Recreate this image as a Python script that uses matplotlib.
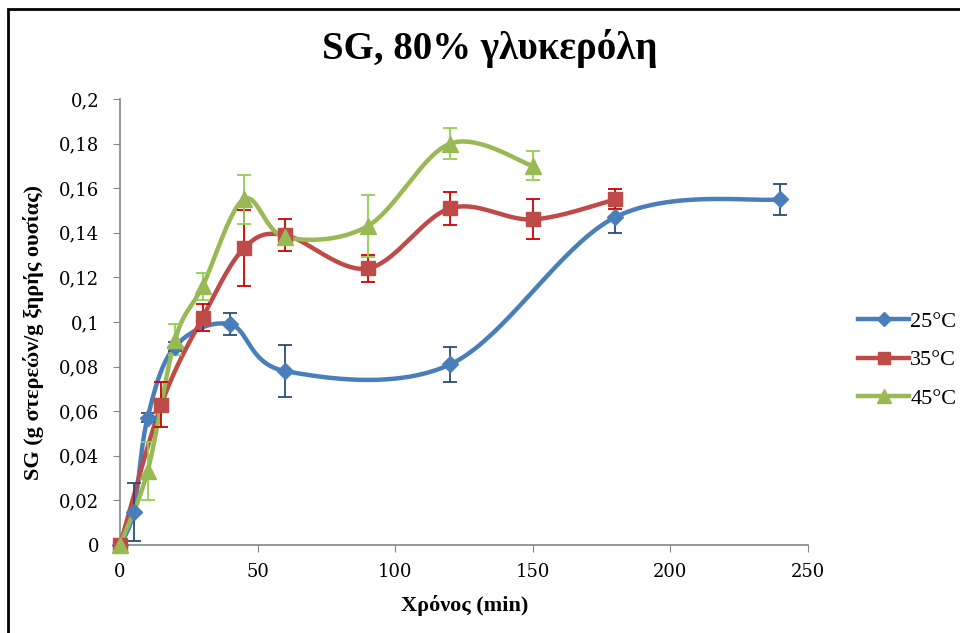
import numpy as np
import matplotlib
matplotlib.use('Agg')
import matplotlib.pyplot as plt
from matplotlib.lines import Line2D
from matplotlib.patches import Rectangle

plt.rcParams['font.family'] = ['Liberation Serif', 'DejaVu Serif']

# 25°C
t_25 = [0, 5, 10, 20, 40, 60, 120, 180, 240]
sg_25 = [0, 0.015, 0.057, 0.089, 0.099, 0.078, 0.081, 0.147, 0.155]
err_25 = [0, 0.013, 0.002, 0.002, 0.005, 0.0115, 0.008, 0.007, 0.007]

# 35°C
t_35 = [0, 15, 30, 45, 60, 90, 120, 150, 180]
sg_35 = [0, 0.063, 0.102, 0.133, 0.139, 0.124, 0.151, 0.146, 0.155]
err_35 = [0, 0.010, 0.006, 0.017, 0.007, 0.006, 0.0075, 0.009, 0.0045]

# 45°C
t_45 = [0, 10, 20, 30, 45, 60, 90, 120, 150]
sg_45 = [0, 0.033, 0.092, 0.116, 0.155, 0.138, 0.143, 0.180, 0.170]
err_45 = [0, 0.013, 0.007, 0.006, 0.011, 0.003, 0.014, 0.007, 0.0065]

labels = ['25°C', '35°C', '45°C']
y_ticks = [0, 0.02, 0.04, 0.06, 0.08, 0.1, 0.12, 0.14, 0.16, 0.18, 0.2]
x_ticks = [0, 50, 100, 150, 200, 250]


# ομαλή γραμμή όπως στο Excel (Catmull-Rom / Bezier)
def smooth(x, y, n=40):
    x = np.asarray(x, float)
    y = np.asarray(y, float)
    px = np.concatenate([[x[0]], x, [x[-1]]])
    py = np.concatenate([[y[0]], y, [y[-1]]])
    xs, ys = [], []
    s = np.linspace(0, 1, n)
    for i in range(1, len(px) - 2):
        p0 = np.array([px[i - 1], py[i - 1]])
        p1 = np.array([px[i], py[i]])
        p2 = np.array([px[i + 1], py[i + 1]])
        p3 = np.array([px[i + 2], py[i + 2]])
        b1 = p1 + (p2 - p0) / 6
        b2 = p2 - (p3 - p1) / 6
        pts = ((1 - s) ** 3)[:, None] * p1 + (3 * (1 - s) ** 2 * s)[:, None] * b1 \
            + (3 * (1 - s) * s ** 2)[:, None] * b2 + (s ** 3)[:, None] * p2
        xs.extend(pts[:, 0])
        ys.extend(pts[:, 1])
    return xs, ys


fig = plt.figure(figsize=(9.6, 6.33), dpi=100)
fig.patches.append(Rectangle((8 / 960, -0.1), 1.2, 1 - 9 / 633 + 0.1,
                             transform=fig.transFigure, fill=False,
                             edgecolor='black', linewidth=2))
ax = fig.add_axes([120 / 960, 88 / 633, 688 / 960, 446 / 633])

series = [
    (t_25, sg_25, err_25, '#4A7EBB', '#2B4C78', 'D', 8),
    (t_35, sg_35, err_35, '#BE4B48', '#D00000', 's', 10),
    (t_45, sg_45, err_45, '#98B954', '#8FD14F', '^', 11),
]
for t, sg, err, color, ecolor, marker, ms in series:
    xs, ys = smooth(t, sg)
    ax.plot(xs, ys, color=color, linewidth=3.2, clip_on=False, zorder=3)
    ax.errorbar(t, sg, yerr=err, fmt='none', ecolor=ecolor, elinewidth=1.3,
                capsize=5, capthick=1.3, clip_on=False, zorder=4)
    ax.plot(t, sg, linestyle='none', marker=marker, markersize=ms, color=color,
            clip_on=False, zorder=5)

ax.set_xlim(0, 250)
ax.set_ylim(0, 0.2)
ax.set_xticks(x_ticks)
ax.set_yticks(y_ticks)
ax.set_yticklabels([('%g' % v).replace('.', ',') for v in y_ticks])
ax.tick_params(labelsize=13, length=5, color='#868686', direction='out')
ax.tick_params(axis='y', pad=10)
ax.tick_params(axis='x', pad=8)
for lab in ax.get_xticklabels() + ax.get_yticklabels():
    lab.set_family('DejaVu Serif')
for side in ['top', 'right']:
    ax.spines[side].set_visible(False)
for side in ['left', 'bottom']:
    ax.spines[side].set_color('#868686')
    ax.spines[side].set_linewidth(1.2)

fig.text(490 / 960, 1 - 48 / 633, 'SG, 80% γλυκερόλη', ha='center', va='center',
         fontsize=28, fontweight='bold')
fig.text(465 / 960, 1 - 606 / 633, 'Χρόνος (min)', ha='center', va='center',
         fontsize=16, fontweight='bold')
fig.text(34 / 960, 1 - 333 / 633, 'SG (g στερεών/g ξηρής ουσίας)', ha='center',
         va='center', rotation=90, fontsize=16, fontweight='bold')

handles = [Line2D([], [], color=c, linewidth=3.2, marker=m, markersize=ms * 0.9)
           for _, _, _, c, _, m, ms in series]
fig.legend(handles, labels, loc='center left', bbox_to_anchor=(858 / 960, 1 - 360 / 633),
           frameon=False, fontsize=16, handlelength=2.3, handletextpad=0.05,
           labelspacing=0.8, numpoints=1, borderaxespad=0, borderpad=0)

fig.savefig('out.png', dpi=100)
